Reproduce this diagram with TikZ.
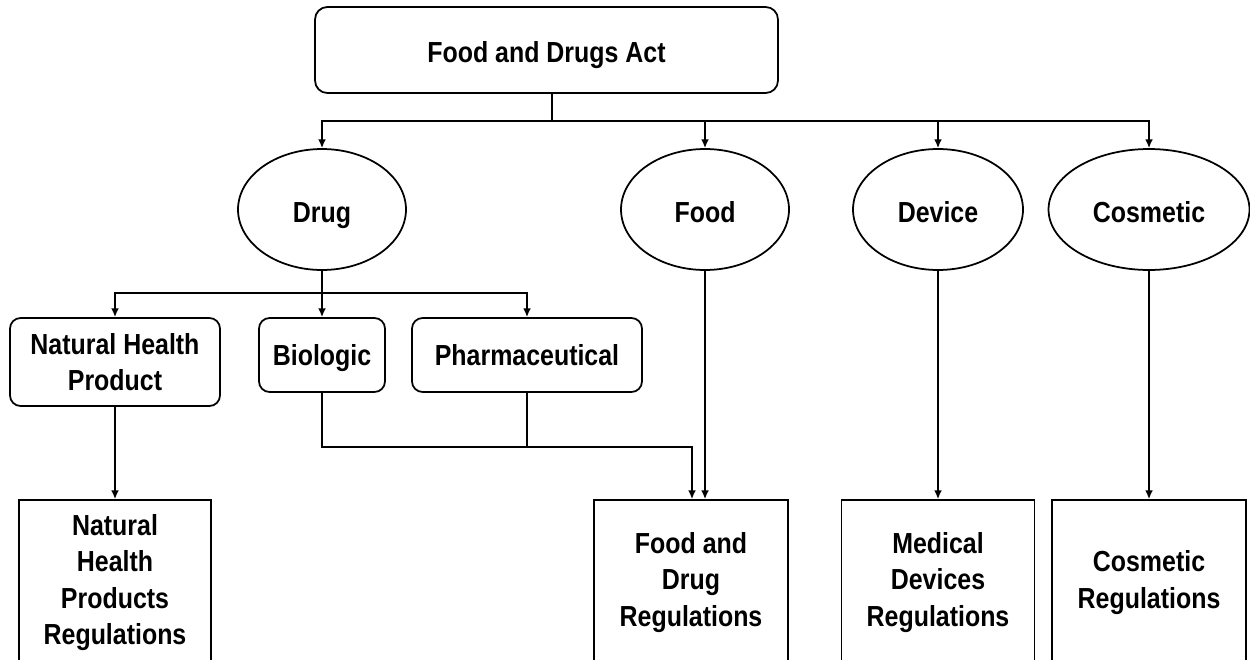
\documentclass[tikz,border=0pt]{standalone}
\usepackage{fontspec}
\setmainfont[FakeStretch=0.86]{Liberation Sans}
\usetikzlibrary{shapes.geometric}
\usetikzlibrary{arrows.meta}

\tikzset{
  labelfont/.style={font=\bfseries\fontsize{16.5}{20.7}\selectfont},
  actbox/.style={draw, rounded corners=7pt, align=center, text height=14.6pt, text depth=0pt, labelfont},
  classell/.style={draw, ellipse, inner sep=0pt, minimum height=2.42cm, text height=14.6pt, text depth=0pt, labelfont},
  prodbox/.style={draw, rounded corners=6pt, align=center, labelfont},
  oneline/.style={text height=12pt, text depth=0.2pt},
  regbox/.style={draw, align=center, minimum height=3.3cm, labelfont}
}

\begin{document}
\begin{tikzpicture}[x=0.02cm, y=-0.02cm, line width=1pt, >={Latex[length=5pt,width=4.5pt]}]
\useasboundingbox (0,0) rectangle (1250,659);

\node[actbox, minimum width=9.26cm, minimum height=1.72cm] (act) at (546.5,50) {Food and Drugs Act};

\node[classell, minimum width=3.36cm] (drug) at (322,209.5) {Drug};
\node[classell, minimum width=3.36cm] (food) at (705,209.5) {Food};
\node[classell, minimum width=3.4cm] (device) at (938,209.5) {Device};
\node[classell, minimum width=4.02cm] (cosmetic) at (1149,209.5) {Cosmetic};

\node[prodbox, minimum width=4.2cm, minimum height=1.76cm] (nhp) at (115,362) {Natural Health\\Product};
\node[prodbox, oneline, minimum width=2.52cm, minimum height=1.48cm] (bio) at (322,355) {Biologic};
\node[prodbox, oneline, minimum width=4.6cm, minimum height=1.48cm] (pharm) at (527,355) {Pharmaceutical};

\node[regbox, minimum width=3.84cm] (nhpr) at (115,582.5) {Natural\\Health\\Products\\Regulations};
\node[regbox, minimum width=3.88cm] (fdr) at (691,582.5) {Food and\\Drug\\Regulations};
\node[regbox, minimum width=3.86cm] (mdr) at (938,582.5) {Medical\\Devices\\Regulations};
\node[regbox, minimum width=3.88cm] (cr) at (1149,582.5) {Cosmetic\\Regulations};

\coordinate (top) at (552,121);
\draw (act.south -| top) -- (top);
\draw[->] (top) -| (drug.north);
\draw[->] (top) -| (cosmetic.north);
\draw[->] (food.north |- top) -- (food.north);
\draw[->] (device.north |- top) -- (device.north);

\coordinate (split) at (322,293);
\draw (drug.south) -- (split);
\draw[->] (split) -| (nhp.north);
\draw[->] (split) -| (pharm.north);
\draw[->] (split) -- (bio.north);

\draw[->] (nhp.south) -- (nhpr.north);

\coordinate (merge) at (692,447);
\draw[->] (bio.south) |- (merge) -- (merge |- fdr.north);
\draw (pharm.south) -- (pharm.south |- merge);
\draw[->] (food.south) -- (food.south |- fdr.north);
\draw[->] (device.south) -- (mdr.north);
\draw[->] (cosmetic.south) -- (cr.north);
\end{tikzpicture}
\end{document}
